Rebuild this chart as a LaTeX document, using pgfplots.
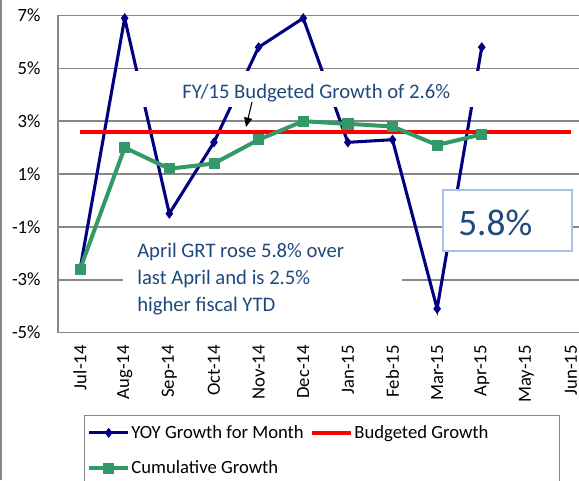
\documentclass[border=0pt]{standalone}
\usepackage{pgfplots}
\pgfplotsset{compat=1.18}
\usepackage{fontspec}
\setmainfont{Carlito}
\usetikzlibrary{arrows.meta}
\definecolor{yoy}{HTML}{000080}
\definecolor{cum}{HTML}{339966}
\definecolor{gridc}{HTML}{878787}
\definecolor{anno}{HTML}{1F497D}
\definecolor{boxb}{HTML}{A9C1E6}
\begin{document}
\begin{tikzpicture}
\useasboundingbox (0pt,0pt) rectangle (434.25pt,360pt);
\clip (0pt,0pt) rectangle (434.25pt,360pt);
\fill[white] (0pt,0pt) rectangle (434.25pt,360pt);
\begin{axis}[
  at={(43.3pt,110.6pt)}, anchor=south west,
  scale only axis, width=401.7pt, height=237.75pt,
  xmin=-0.5, xmax=11.5, ymin=-5, ymax=7,
  xtick={0,...,11},
  xticklabels={Jul-14,Aug-14,Sep-14,Oct-14,Nov-14,Dec-14,Jan-15,Feb-15,Mar-15,Apr-15,May-15,Jun-15},
  ytick={-5,-3,-1,1,3,5,7},
  yticklabels={-5\%,-3\%,-1\%,1\%,3\%,5\%,7\%},
  major tick length=0pt,
  ymajorgrids, grid style={draw=gridc, line width=1.2pt},
  axis line style={draw=gridc, line width=1.2pt},
  tick label style={font=\fontsize{14}{16}\selectfont, black},
  xticklabel style={rotate=90, anchor=east, inner xsep=9.4pt, inner ysep=0pt},
  yticklabel style={anchor=east, inner xsep=12.7pt, inner ysep=0pt},
  legend columns=2,
  legend cell align=left,
  legend style={at={(0.0491,-0.2603)}, anchor=north west, draw=gridc, line width=1pt,
    inner xsep=2pt, inner ysep=6pt, row sep=13pt,
    font=\fontsize{14}{16}\selectfont,
    /tikz/every even column/.append style={column sep=4pt},
    nodes={inner sep=1pt, text depth=0.2em}},
  legend image code/.code={\draw[mark repeat=2,mark phase=2,#1] plot coordinates {(0pt,0pt) (14.5pt,0pt) (29pt,0pt)};},
]
\addplot[yoy, line width=2.3pt, mark=diamond*, mark size=3.4pt, mark options={solid, fill=yoy, draw=yoy, line width=0.5pt}]
  coordinates {(0,-2.6) (1,6.9) (2,-0.5) (3,2.2) (4,5.8) (5,6.9) (6,2.2) (7,2.3) (8,-4.1) (9,5.8)};
\addlegendentry{YOY Growth for Month}
\addplot[red, line width=2.9pt, no marks]
  coordinates {(0,2.6) (11,2.6)};
\addlegendentry{Budgeted Growth\hspace*{50pt}}
\addplot[cum, line width=3pt, mark=square*, mark size=3.8pt, mark options={solid, fill=cum, draw=cum, line width=0.5pt}]
  coordinates {(0,-2.6) (1,2.0) (2,1.2) (3,1.4) (4,2.3) (5,3.0) (6,2.9) (7,2.8) (8,2.1) (9,2.5)};
\addlegendentry{Cumulative Growth}
\end{axis}
\begin{scope}[x=0.75pt,y=0.75pt]
  \draw[gridc, line width=1.2pt] (1,0) -- (1,480);
  % FY/15 annotation
  \fill[white] (125,373) rectangle (485,409);
  \node[anno, anchor=base west, inner sep=0pt, font=\fontsize{15.5}{18}\selectfont] at (182,382) {FY/15 Budgeted Growth of 2.6\%};
  \draw[black, line width=0.8pt, -{Triangle[length=7pt,width=6pt]}] (252,378) -- (246,353);
  % April annotation
  \fill[white] (123,158) rectangle (402,247);
  \node[anno, anchor=base west, inner sep=0pt, font=\fontsize{15.5}{18}\selectfont] at (137,223) {April GRT rose 5.8\% over};
  \node[anno, anchor=base west, inner sep=0pt, font=\fontsize{15.5}{18}\selectfont] at (137,196) {last April and is 2.5\%};
  \node[anno, anchor=base west, inner sep=0pt, font=\fontsize{15.5}{18}\selectfont] at (137,169) {higher fiscal YTD};
  % 5.8% box
  \draw[boxb, line width=2pt, fill=white] (443,229) rectangle (572,290);
  \node[anno, anchor=base west, inner sep=0pt, font=\fontsize{28}{32}\selectfont] at (458,245) {5.8\%};
\end{scope}
\end{tikzpicture}
\end{document}
